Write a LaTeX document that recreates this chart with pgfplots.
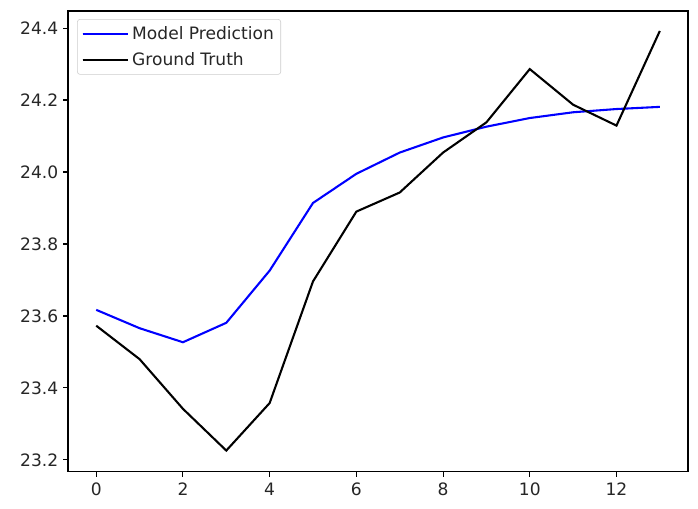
\documentclass[border=0pt]{standalone}
\usepackage{fontspec}
\setmainfont{DejaVu Sans}
\usepackage{pgfplots}
\pgfplotsset{compat=1.18}
\begin{document}
\begin{tikzpicture}
\begin{axis}[
  scale only axis,
  width=446.4pt, height=331.9pt,
  xmin=-0.65, xmax=13.65,
  ymin=23.1667, ymax=24.4475,
  xtick={0,2,...,12},
  ytick={23.2,23.4,...,24.4},
  yticklabel style={/pgf/number format/.cd,fixed,fixed zerofill,precision=1},
  /pgf/number format/assume math mode=true,
  tick align=outside,
  tick pos=left,
  major tick length=3.5pt,
  every tick/.style={black, line width=0.8pt},
  axis line style={line width=0.8pt},
  ticklabel style={font=\fontsize{12.3}{14}\selectfont, text=black!85},
  xticklabel style={yshift=-1pt},
  legend style={font=\fontsize{12.3}{14}\selectfont, text=black!85, draw=black!20, rounded corners=2pt, at={(0.0146,0.9825)}, anchor=north west, inner xsep=3pt, inner ysep=3pt, row sep=4pt},
  legend cell align=left,
  legend image code/.code={\draw[#1, line width=1.5pt] (0pt,0pt) -- (26pt,0pt); \path (0pt,0pt) -- (33pt,0pt);},
]
\addplot[blue, line width=1.5pt] coordinates {
(0,23.617) (1,23.566) (2,23.527) (3,23.581) (4,23.726) (5,23.914) (6,23.995)
(7,24.054) (8,24.096) (9,24.126) (10,24.150) (11,24.166) (12,24.175) (13,24.181)};
\addlegendentry{Model Prediction}
\addplot[black, line width=1.5pt] coordinates {
(0,23.573) (1,23.480) (2,23.342) (3,23.226) (4,23.358) (5,23.696) (6,23.890)
(7,23.943) (8,24.054) (9,24.138) (10,24.286) (11,24.187) (12,24.129) (13,24.392)};
\addlegendentry{Ground Truth}
\end{axis}
\path (current axis.south west) ++(-49pt,-26pt) coordinate (bl);
\path (current axis.north east) ++(7.2pt,7.9pt) coordinate (tr);
\path (bl) rectangle (tr);
\end{tikzpicture}
\end{document}
